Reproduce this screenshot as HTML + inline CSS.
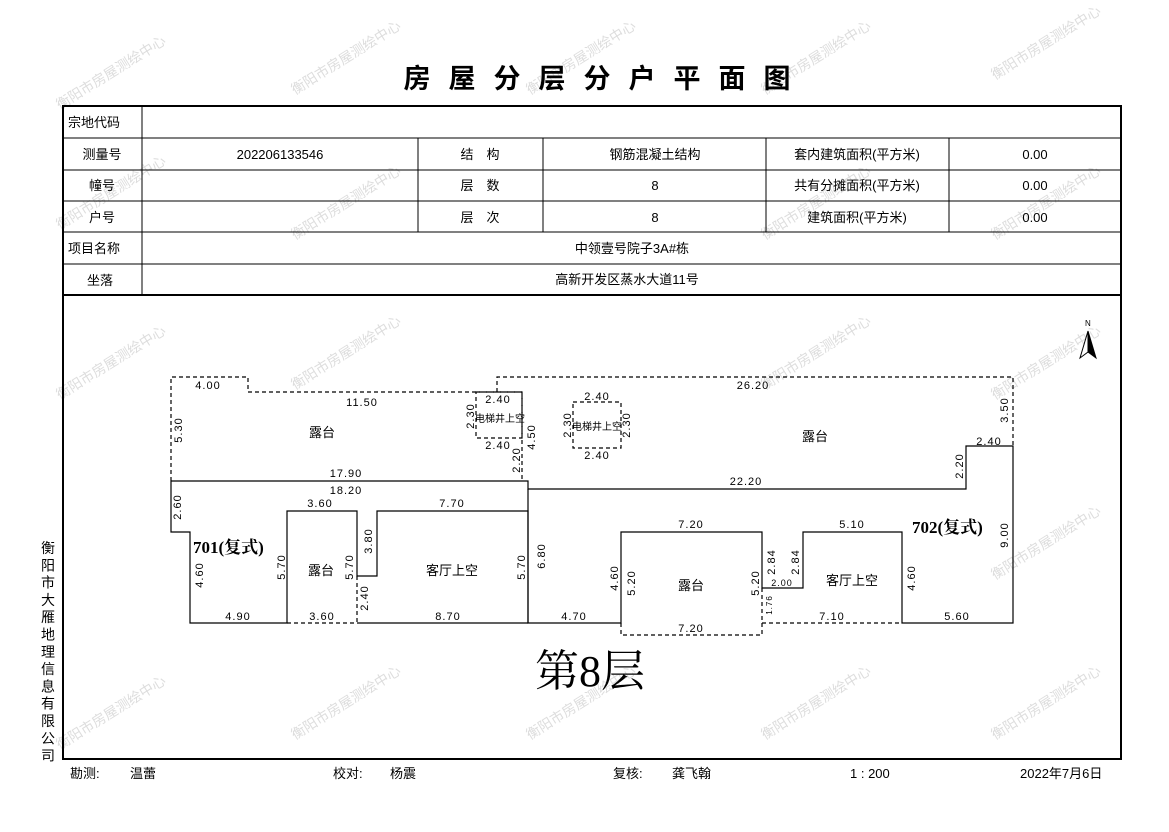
<!DOCTYPE html>
<html><head><meta charset="utf-8"><style>
body{margin:0;background:#fff;width:1169px;height:827px;overflow:hidden}
svg text{font-family:"Liberation Sans","Noto Sans CJK SC",sans-serif;fill:#000}
.m{font-family:"Liberation Mono","Noto Sans CJK SC",monospace;font-size:11px;letter-spacing:1px}
.c{font-family:"Noto Sans CJK SC",sans-serif;font-size:13px}
.wm{font-family:"Noto Sans CJK SC",sans-serif;font-size:14px;fill:#ddd}
</style></head><body>
<svg width="1169" height="827" viewBox="0 0 1169 827" xmlns="http://www.w3.org/2000/svg">
<g class="wm">
<text transform="translate(60,110) rotate(-32)" style="fill:#ddd">衡阳市房屋测绘中心</text>
<text transform="translate(295,95) rotate(-32)" style="fill:#ddd">衡阳市房屋测绘中心</text>
<text transform="translate(530,95) rotate(-32)" style="fill:#ddd">衡阳市房屋测绘中心</text>
<text transform="translate(765,95) rotate(-32)" style="fill:#ddd">衡阳市房屋测绘中心</text>
<text transform="translate(995,80) rotate(-32)" style="fill:#ddd">衡阳市房屋测绘中心</text>
<text transform="translate(60,230) rotate(-32)" style="fill:#ddd">衡阳市房屋测绘中心</text>
<text transform="translate(295,240) rotate(-32)" style="fill:#ddd">衡阳市房屋测绘中心</text>
<text transform="translate(765,240) rotate(-32)" style="fill:#ddd">衡阳市房屋测绘中心</text>
<text transform="translate(995,240) rotate(-32)" style="fill:#ddd">衡阳市房屋测绘中心</text>
<text transform="translate(60,400) rotate(-32)" style="fill:#ddd">衡阳市房屋测绘中心</text>
<text transform="translate(295,390) rotate(-32)" style="fill:#ddd">衡阳市房屋测绘中心</text>
<text transform="translate(765,390) rotate(-32)" style="fill:#ddd">衡阳市房屋测绘中心</text>
<text transform="translate(995,400) rotate(-32)" style="fill:#ddd">衡阳市房屋测绘中心</text>
<text transform="translate(60,750) rotate(-32)" style="fill:#ddd">衡阳市房屋测绘中心</text>
<text transform="translate(295,740) rotate(-32)" style="fill:#ddd">衡阳市房屋测绘中心</text>
<text transform="translate(530,740) rotate(-32)" style="fill:#ddd">衡阳市房屋测绘中心</text>
<text transform="translate(765,740) rotate(-32)" style="fill:#ddd">衡阳市房屋测绘中心</text>
<text transform="translate(995,740) rotate(-32)" style="fill:#ddd">衡阳市房屋测绘中心</text>
<text transform="translate(995,580) rotate(-32)" style="fill:#ddd">衡阳市房屋测绘中心</text>
</g>
<text x="606" y="88" text-anchor="middle" style="font-family:'Noto Sans CJK SC',sans-serif;font-size:27px;font-weight:bold;letter-spacing:18px">房屋分层分户平面图</text>
<g stroke="#000" fill="none">
<rect x="63" y="106" width="1058" height="653" stroke-width="2"/>
<line x1="63" y1="295" x2="1121" y2="295" stroke-width="2"/>
<g stroke-width="1">
<line x1="63" y1="138" x2="1121" y2="138"/><line x1="63" y1="170" x2="1121" y2="170"/>
<line x1="63" y1="201" x2="1121" y2="201"/><line x1="63" y1="232" x2="1121" y2="232"/>
<line x1="63" y1="264" x2="1121" y2="264"/>
<line x1="142" y1="106" x2="142" y2="295"/>
<line x1="418" y1="138" x2="418" y2="232"/><line x1="543" y1="138" x2="543" y2="232"/>
<line x1="766" y1="138" x2="766" y2="232"/><line x1="949" y1="138" x2="949" y2="232"/>
</g></g>
<g class="c">
<text x="68" y="127">宗地代码</text>
<text x="102" y="159" text-anchor="middle">测量号</text>
<text x="102" y="190" text-anchor="middle">幢号</text>
<text x="102" y="222" text-anchor="middle">户号</text>
<text x="68" y="253">项目名称</text>
<text x="100" y="285" text-anchor="middle">坐落</text>
<text x="480" y="159" text-anchor="middle">结　构</text>
<text x="480" y="190" text-anchor="middle">层　数</text>
<text x="480" y="222" text-anchor="middle">层　次</text>
<text x="655" y="159" text-anchor="middle">钢筋混凝土结构</text>
<text x="655" y="190" text-anchor="middle">8</text>
<text x="655" y="222" text-anchor="middle">8</text>
<text x="857" y="159" text-anchor="middle">套内建筑面积(平方米)</text>
<text x="857" y="190" text-anchor="middle">共有分摊面积(平方米)</text>
<text x="857" y="222" text-anchor="middle">建筑面积(平方米)</text>
<text x="1035" y="159" text-anchor="middle">0.00</text>
<text x="1035" y="190" text-anchor="middle">0.00</text>
<text x="1035" y="222" text-anchor="middle">0.00</text>
<text x="280" y="159" text-anchor="middle">202206133546</text>
<text x="632" y="253" text-anchor="middle">中领壹号院子3A#栋</text>
<text x="627" y="284" text-anchor="middle">高新开发区蒸水大道11号</text>
</g>
<g stroke="#000" fill="none" stroke-width="1.2">
<g stroke-dasharray="4,3">
<polyline points="171,481 171,377 248,377 248,392 522,392 522,481"/>
<rect x="476" y="392" width="46" height="46"/>
<polyline points="497,392 497,377 1013,377 1013,446"/>
<rect x="573" y="402" width="48" height="46"/>
<line x1="287" y1="623" x2="358" y2="623"/>
<line x1="357" y1="576" x2="357" y2="623"/>
<polyline points="621,623 621,635 762,635 762,623"/>
<line x1="762" y1="588" x2="762" y2="623"/>
<line x1="762" y1="623" x2="902" y2="623"/>
</g>
<polyline points="171,481 528,481 528,489 966,489 966,446 1013,446 1013,623 902,623 902,532 803,532 803,588 762,588 762,532 621,532 621,623 528,623 528,511 377,511 377,576 357,576 357,511 287,511 287,623 190,623 190,532 171,532 171,481"/>
<line x1="358" y1="623" x2="528" y2="623"/>
<line x1="528" y1="489" x2="528" y2="623"/>
</g>
<g class="m">
<text x="208" y="389" text-anchor="middle">4.00</text>
<text x="362" y="406" text-anchor="middle">11.50</text>
<text x="346" y="477" text-anchor="middle">17.90</text>
<text x="346" y="494" text-anchor="middle">18.20</text>
<text x="320" y="507" text-anchor="middle">3.60</text>
<text x="452" y="507" text-anchor="middle">7.70</text>
<text x="238" y="620" text-anchor="middle">4.90</text>
<text x="322" y="620" text-anchor="middle">3.60</text>
<text x="448" y="620" text-anchor="middle">8.70</text>
<text x="498" y="403" text-anchor="middle">2.40</text>
<text x="498" y="449" text-anchor="middle">2.40</text>
<text x="753" y="389" text-anchor="middle">26.20</text>
<text x="597" y="400" text-anchor="middle">2.40</text>
<text x="597" y="459" text-anchor="middle">2.40</text>
<text x="989" y="445" text-anchor="middle">2.40</text>
<text x="746" y="485" text-anchor="middle">22.20</text>
<text x="691" y="528" text-anchor="middle">7.20</text>
<text x="852" y="528" text-anchor="middle">5.10</text>
<text x="782" y="586" text-anchor="middle" style="font-size:9px">2.00</text>
<text x="574" y="620" text-anchor="middle">4.70</text>
<text x="691" y="632" text-anchor="middle">7.20</text>
<text x="832" y="620" text-anchor="middle">7.10</text>
<text x="957" y="620" text-anchor="middle">5.60</text>
<g text-anchor="middle">
<text transform="translate(182,430) rotate(-90)">5.30</text>
<text transform="translate(181,507) rotate(-90)">2.60</text>
<text transform="translate(203,575) rotate(-90)">4.60</text>
<text transform="translate(285,567) rotate(-90)">5.70</text>
<text transform="translate(353,567) rotate(-90)">5.70</text>
<text transform="translate(372,541) rotate(-90)">3.80</text>
<text transform="translate(368,598) rotate(-90)">2.40</text>
<text transform="translate(525,567) rotate(-90)">5.70</text>
<text transform="translate(545,556) rotate(-90)">6.80</text>
<text transform="translate(474,416) rotate(-90)">2.30</text>
<text transform="translate(520,460) rotate(-90)">2.20</text>
<text transform="translate(535,437) rotate(-90)">4.50</text>
<text transform="translate(571,425) rotate(-90)">2.30</text>
<text transform="translate(630,425) rotate(-90)">2.30</text>
<text transform="translate(1008,410) rotate(-90)">3.50</text>
<text transform="translate(963,466) rotate(-90)">2.20</text>
<text transform="translate(1008,535) rotate(-90)">9.00</text>
<text transform="translate(775,562) rotate(-90)">2.84</text>
<text transform="translate(799,562) rotate(-90)">2.84</text>
<text transform="translate(618,578) rotate(-90)">4.60</text>
<text transform="translate(635,583) rotate(-90)">5.20</text>
<text transform="translate(759,583) rotate(-90)">5.20</text>
<text transform="translate(915,578) rotate(-90)">4.60</text>
<text transform="translate(772,605) rotate(-90)" style="font-size:8px">1.76</text>
</g>
</g>
<g class="c">
<text x="322" y="437" text-anchor="middle">露台</text>
<text x="321" y="575" text-anchor="middle">露台</text>
<text x="452" y="575" text-anchor="middle">客厅上空</text>
<text x="815" y="441" text-anchor="middle">露台</text>
<text x="691" y="590" text-anchor="middle">露台</text>
<text x="852" y="585" text-anchor="middle">客厅上空</text>
<text x="500" y="422" text-anchor="middle" style="font-size:10px">电梯井上空</text>
<text x="597" y="430" text-anchor="middle" style="font-size:10px">电梯井上空</text>
</g>
<text x="193" y="553" style="font-family:'Liberation Serif','Noto Serif CJK SC',serif;font-size:17px;font-weight:bold">701(复式)</text>
<text x="912" y="533" style="font-family:'Liberation Serif','Noto Serif CJK SC',serif;font-size:17px;font-weight:bold">702(复式)</text>
<text x="590" y="686" text-anchor="middle" style="font-family:'Liberation Serif','Noto Serif CJK SC',serif;font-size:44px">第8层</text>
<text x="1085" y="326" style="font-size:8px">N</text>
<polygon points="1088,331 1080,358 1088,352" fill="#fff" stroke="#000"/>
<polygon points="1088,331 1096,358 1088,352" fill="#000" stroke="#000"/>
<text style="font-family:'Noto Sans CJK SC',sans-serif;font-size:14px" x="41" y="553">
<tspan x="41" dy="0">衡</tspan><tspan x="41" dy="17.3">阳</tspan><tspan x="41" dy="17.3">市</tspan><tspan x="41" dy="17.3">大</tspan><tspan x="41" dy="17.3">雁</tspan><tspan x="41" dy="17.3">地</tspan><tspan x="41" dy="17.3">理</tspan><tspan x="41" dy="17.3">信</tspan><tspan x="41" dy="17.3">息</tspan><tspan x="41" dy="17.3">有</tspan><tspan x="41" dy="17.3">限</tspan><tspan x="41" dy="17.3">公</tspan><tspan x="41" dy="17.3">司</tspan>
</text>
<g class="c">
<text x="70" y="778">勘测:</text><text x="130" y="778">温蕾</text>
<text x="333" y="778">校对:</text><text x="390" y="778">杨震</text>
<text x="613" y="778">复核:</text><text x="672" y="778">龚飞翰</text>
<text x="850" y="778">1 : 200</text>
<text x="1020" y="778">2022年7月6日</text>
</g>
</svg>
</body></html>
